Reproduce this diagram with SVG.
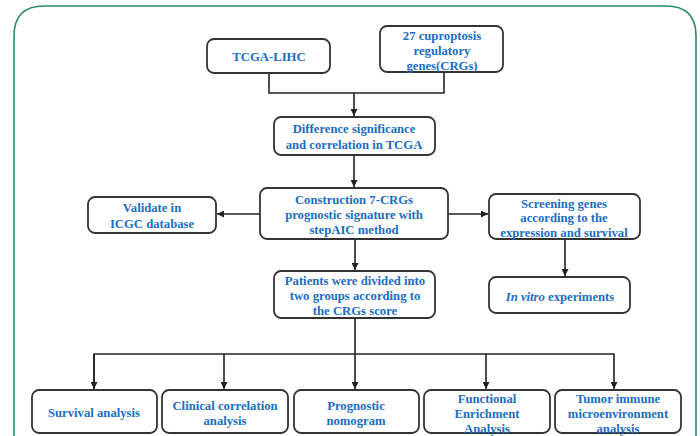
<svg xmlns="http://www.w3.org/2000/svg" width="700" height="436" viewBox="0 0 700 436">
<defs>
<marker id="arr" viewBox="0 0 8 8" refX="8" refY="4" markerWidth="7" markerHeight="7" markerUnits="userSpaceOnUse" orient="auto">
<path d="M0,0 L8,4 L0,8 z" fill="#222"/>
</marker>
</defs>
<style>
.box{fill:#fff;stroke:#333;stroke-width:1.8}
.t{font-family:"Liberation Serif","Times New Roman",serif;font-weight:bold;font-size:12.7px;fill:#1b6ec2;text-anchor:middle}
.ln{fill:none;stroke:#222;stroke-width:1.6}
.frame{fill:none;stroke:#2a8a6a;stroke-width:1.6}
</style>
<rect width="700" height="436" fill="#fff"/>
<path class="frame" d="M14,460 L14,36 Q14,6 44,6 L666,6 Q696,6 696,36 L696,460"/>
<g id="connectors">
<path class="ln" d="M269,73 V93 H444 V72"/>
<path class="ln" d="M354,93 V116" marker-end="url(#arr)"/>
<path class="ln" d="M354,155 V187" marker-end="url(#arr)"/>
<path class="ln" d="M260,214 H217" marker-end="url(#arr)"/>
<path class="ln" d="M448,214 H488" marker-end="url(#arr)"/>
<path class="ln" d="M565,239 V276" marker-end="url(#arr)"/>
<path class="ln" d="M355,239 V270" marker-end="url(#arr)"/>
<path class="ln" d="M355,318 V354"/>
<path class="ln" d="M94,389 V354 H614 V389" marker-end="url(#arr)"/>
<path class="ln" d="M94,354 V389" marker-end="url(#arr)"/>
<path class="ln" d="M224,354 V389" marker-end="url(#arr)"/>
<path class="ln" d="M355,354 V389" marker-end="url(#arr)"/>
<path class="ln" d="M486,354 V389" marker-end="url(#arr)"/>
</g>
<g id="tcga">
<rect class="box" x="207" y="39" width="123" height="34" rx="7"/>
<text class="t" x="269" y="61">TCGA-LIHC</text>
</g>
<g id="crgs">
<rect class="box" x="380" y="26" width="123" height="46" rx="7"/>
<text class="t" x="442" y="40">27 cuproptosis</text>
<text class="t" x="442" y="55">regulatory</text>
<text class="t" x="442" y="70">genes(CRGs)</text>
</g>
<g id="difference">
<rect class="box" x="274" y="117" width="161" height="38" rx="7"/>
<text class="t" x="354" y="133">Difference significance</text>
<text class="t" x="354" y="148.5">and correlation in TCGA</text>
</g>
<g id="construction">
<rect class="box" x="260" y="188" width="188" height="51" rx="7"/>
<text class="t" x="354" y="203.5">Construction 7-CRGs</text>
<text class="t" x="354" y="219">prognostic signature with</text>
<text class="t" x="354" y="234">stepAIC method</text>
</g>
<g id="validate">
<rect class="box" x="88" y="197" width="128" height="36" rx="7"/>
<text class="t" x="152" y="211.5">Validate in</text>
<text class="t" x="152" y="227.5">ICGC database</text>
</g>
<g id="screening">
<rect class="box" x="489" y="194" width="151" height="45" rx="7"/>
<text class="t" x="564" y="207.5">Screening genes</text>
<text class="t" x="564" y="221.5">according to the</text>
<text class="t" x="564" y="236.5">expression and survival</text>
</g>
<g id="invitro">
<rect class="box" x="489" y="277" width="141" height="36" rx="7"/>
<text class="t" x="560" y="300.5"><tspan font-style="italic">In vitro</tspan> experiments</text>
</g>
<g id="patients">
<rect class="box" x="274" y="271" width="161" height="47" rx="7"/>
<text class="t" x="355" y="284.5">Patients were divided into</text>
<text class="t" x="355" y="299.5">two groups according to</text>
<text class="t" x="355" y="314.5">the CRGs score</text>
</g>
<g id="survival">
<rect class="box" x="32" y="390" width="125" height="43" rx="7"/>
<text class="t" x="94" y="416.5">Survival analysis</text>
</g>
<g id="clinical">
<rect class="box" x="162" y="390" width="126" height="43" rx="7"/>
<text class="t" x="225" y="409.5">Clinical correlation</text>
<text class="t" x="225" y="424.5">analysis</text>
</g>
<g id="nomogram">
<rect class="box" x="294" y="390" width="125" height="43" rx="7"/>
<text class="t" x="356" y="409.5">Prognostic</text>
<text class="t" x="356" y="424.5">nomogram</text>
</g>
<g id="functional">
<rect class="box" x="424" y="390" width="126" height="43" rx="7"/>
<text class="t" x="487" y="402.5">Functional</text>
<text class="t" x="487" y="417.5">Enrichment</text>
<text class="t" x="487" y="432.5">Analysis</text>
</g>
<g id="tumor">
<rect class="box" x="555" y="390" width="126" height="43" rx="7"/>
<text class="t" x="618" y="402.5">Tumor immune</text>
<text class="t" x="618" y="417.5">microenvironment</text>
<text class="t" x="618" y="432.5">analysis</text>
</g>
</svg>
